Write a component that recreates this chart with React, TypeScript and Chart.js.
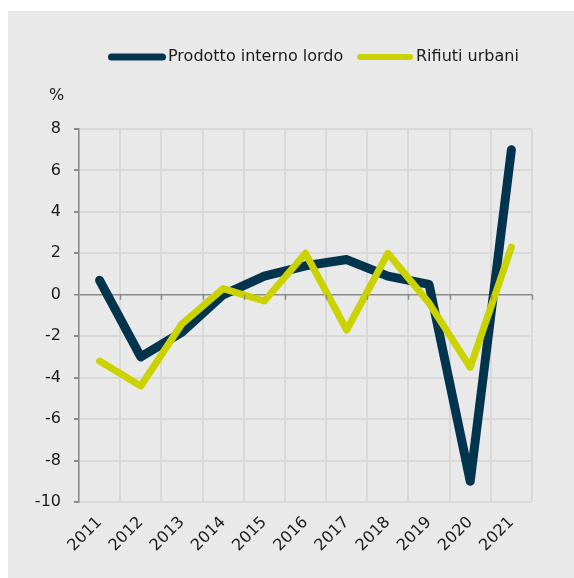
import React, { useEffect, useRef } from "react";
import { Chart, registerables } from "chart.js";

Chart.register(...registerables);

const years = ["2011", "2012", "2013", "2014", "2015", "2016", "2017", "2018", "2019", "2020", "2021"];
const gdpLabel = "Prodotto interno lordo";
const wasteLabel = "Rifiuti urbani";
const gdpValues = [0.7, -3.0, -1.8, 0.0, 0.9, 1.4, 1.7, 0.9, 0.5, -9.0, 7.0];
const wasteValues = [-3.2, -4.4, -1.4, 0.3, -0.3, 2.0, -1.7, 2.0, -0.4, -3.5, 2.3];
const yMin = -10;
const yMax = 8;
const yStep = 2;
const unitLabel = "%";

const DARK = "#03344d";
const YELLOW = "#cad300";
const FONT = "'DejaVu Sans', sans-serif";
const TEXT = "#1a1a1a";
const AXIS = "#8a8a8a";
const GRID = "#d9d9d9";

const extras = {
  id: "extras",
  afterDraw(chart: any) {
    const ctx = chart.ctx;
    const area = chart.chartArea;
    const y = chart.scales.y;
    const y0 = y.getPixelForValue(0);
    ctx.save();
    // tick marks below the zero line
    ctx.strokeStyle = AXIS;
    ctx.lineWidth = 1.5;
    const n = years.length;
    for (let k = 1; k <= n; k++) {
      const x = Math.round(area.left + (k * (area.right - area.left)) / n) + 0.5;
      ctx.beginPath();
      ctx.moveTo(x, y0);
      ctx.lineTo(x, y0 + 5);
      ctx.stroke();
    }
    // unit label
    ctx.fillStyle = TEXT;
    ctx.font = `16px ${FONT}`;
    ctx.textAlign = "left";
    ctx.textBaseline = "middle";
    ctx.fillText(unitLabel, 41, 85);
    // legend
    const drawItem = (x1: number, x2: number, ly: number, w: number, color: string, label: string, tx: number) => {
      ctx.strokeStyle = color;
      ctx.lineWidth = w;
      ctx.lineCap = "round";
      ctx.beginPath();
      ctx.moveTo(x1 + w / 2, ly);
      ctx.lineTo(x2 - w / 2, ly);
      ctx.stroke();
      ctx.fillStyle = TEXT;
      ctx.fillText(label, tx, ly);
    };
    drawItem(100, 158, 46, 7, DARK, gdpLabel, 160);
    drawItem(349, 405, 46, 6, YELLOW, wasteLabel, 408);
    ctx.restore();
  },
};

export default function App() {
  const ref = useRef<HTMLCanvasElement>(null);
  useEffect(() => {
    if (!ref.current) return;
    Chart.defaults.font.family = FONT;
    const chart = new Chart(ref.current, {
      type: "line",
      data: {
        labels: years,
        datasets: [
          {
            label: gdpLabel,
            data: gdpValues,
            borderColor: DARK,
            backgroundColor: DARK,
            borderWidth: 9,
            pointRadius: 0,
            tension: 0,
            borderJoinStyle: "round",
            borderCapStyle: "round",
            order: 1,
          },
          {
            label: wasteLabel,
            data: wasteValues,
            borderColor: YELLOW,
            backgroundColor: YELLOW,
            borderWidth: 7,
            pointRadius: 0,
            tension: 0,
            borderJoinStyle: "round",
            borderCapStyle: "round",
            order: 0,
          },
        ],
      },
      options: {
        responsive: false,
        animation: false,
        layout: { padding: { top: 118, right: 42, left: 0, bottom: 0 } },
        plugins: { legend: { display: false }, tooltip: { enabled: false } },
        scales: {
          x: {
            offset: true,
            grid: { offset: true, color: GRID, lineWidth: 2, drawTicks: false },
            border: { display: false },
            ticks: {
              maxRotation: 45,
              minRotation: 45,
              autoSkip: false,
              padding: 11,
              color: TEXT,
              font: { size: 16, family: FONT },
            },
            afterFit: (s: any) => {
              s.height = 76;
            },
          },
          y: {
            min: yMin,
            max: yMax,
            ticks: {
              stepSize: yStep,
              padding: 13,
              color: TEXT,
              font: { size: 16, family: FONT },
            },
            grid: {
              color: (c: any) => (c.tick && c.tick.value === 0 ? AXIS : GRID),
              lineWidth: (c: any) => (c.tick && c.tick.value === 0 ? 1.5 : 2),
              tickColor: AXIS,
              tickLength: 5,
            },
            border: { color: AXIS, width: 1.5 },
            afterFit: (s: any) => {
              s.width = 71;
            },
          },
        },
      },
      plugins: [extras],
    });
    return () => chart.destroy();
  }, []);
  return (
    <div
      style={{
        position: "fixed",
        left: 8,
        top: 11,
        width: 566,
        height: 567,
        background: "#e9e9e9",
      }}
    >
      <canvas ref={ref} width={566} height={567} style={{ display: "block" }} />
    </div>
  );
}
